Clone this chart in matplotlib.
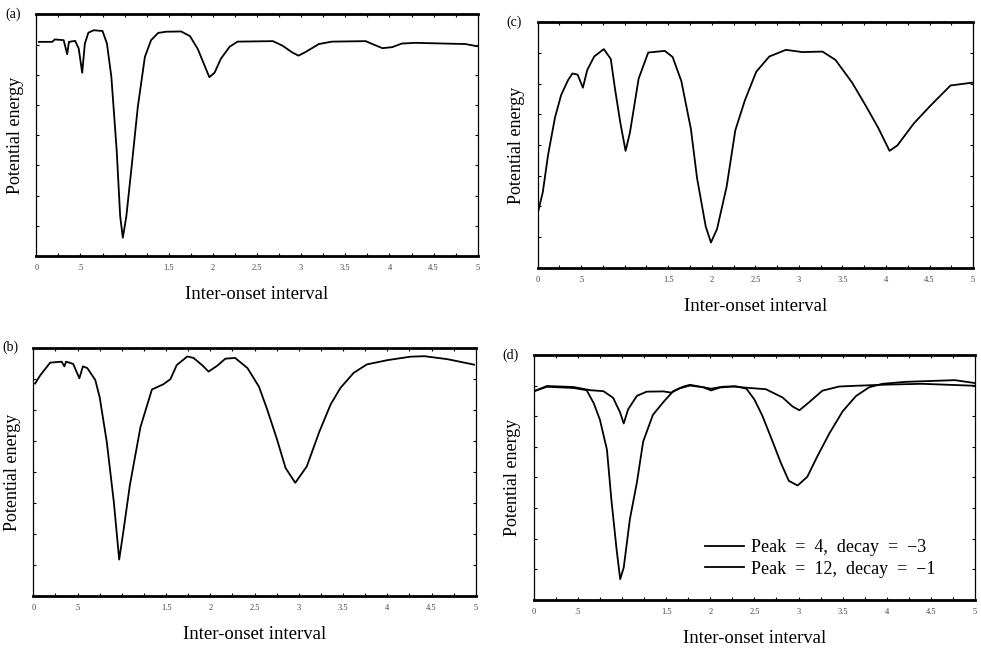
#!/usr/bin/env python3
"""Four-panel potential energy vs inter-onset interval figure (scan recreation)."""

import matplotlib
matplotlib.use("Agg")
import matplotlib.pyplot as plt
from matplotlib.ticker import MultipleLocator

plt.rcParams["font.family"] = ["Liberation Serif", "DejaVu Serif"]

# x tick labels (the "1" label is missing in the original scan)
tick_pos = [0, 0.5, 1, 1.5, 2, 2.5, 3, 3.5, 4, 4.5, 5]
tick_labels = ["0", ".5", "", "1.5", "2", "2.5", "3", "3.5", "4", "4.5", "5"]

# panel (a)
a_x = [0.03, 0.18, 0.21, 0.31, 0.35, 0.37, 0.44, 0.48, 0.52, 0.55, 0.59, 0.65,
       0.75, 0.80, 0.85, 0.91, 0.95, 0.98, 1.02, 1.08, 1.15, 1.23, 1.30, 1.38,
       1.47, 1.64, 1.74, 1.83, 1.89, 1.96, 2.02, 2.09, 2.19, 2.28, 2.68, 2.79,
       2.90, 2.97, 3.05, 3.20, 3.35, 3.73, 3.84, 3.92, 4.03, 4.14, 4.29, 4.86, 4.99]
a_y = [88.6, 88.6, 89.6, 89.3, 83.5, 88.6, 89.0, 85.9, 75.8, 87.9, 92.4, 93.4,
       93.1, 87.9, 74.2, 44.0, 16.5, 7.6, 16.5, 37.1, 61.8, 82.4, 89.3, 92.3,
       92.8, 92.9, 91.0, 85.6, 80.2, 74.0, 75.9, 81.6, 86.6, 88.7, 88.9, 87.0,
       84.2, 82.9, 84.4, 87.7, 88.7, 88.9, 87.2, 86.0, 86.4, 87.9, 88.2, 87.7, 86.8]

# panel (b)
b_x = [0.02, 0.08, 0.19, 0.32, 0.35, 0.37, 0.45, 0.52, 0.56, 0.61, 0.70, 0.75,
       0.83, 0.91, 0.97, 1.02, 1.09, 1.21, 1.34, 1.47, 1.55, 1.62, 1.74, 1.81,
       1.91, 1.98, 2.08, 2.17, 2.28, 2.42, 2.55, 2.64, 2.75, 2.85, 2.96, 3.09,
       3.23, 3.36, 3.47, 3.62, 3.77, 4.00, 4.26, 4.42, 4.68, 4.98]
b_y = [85.6, 89.0, 94.0, 94.4, 92.5, 94.4, 93.5, 87.7, 92.5, 91.8, 87.0, 80.0,
       62.0, 37.7, 14.7, 26.7, 44.5, 68.0, 83.2, 85.3, 87.4, 93.0, 96.5, 95.9,
       92.9, 90.4, 92.8, 95.6, 95.9, 91.8, 84.3, 75.4, 63.5, 51.6, 45.6, 52.2,
       66.0, 77.2, 83.8, 89.9, 93.3, 95.0, 96.4, 96.6, 95.4, 93.2]

# panel (c)
c_x = [0.00, 0.06, 0.12, 0.20, 0.27, 0.35, 0.40, 0.46, 0.52, 0.57, 0.65, 0.76,
       0.84, 0.89, 0.95, 1.01, 1.06, 1.16, 1.27, 1.46, 1.55, 1.65, 1.76, 1.83,
       1.93, 1.99, 2.06, 2.17, 2.27, 2.38, 2.51, 2.66, 2.85, 3.04, 3.27, 3.42,
       3.61, 3.76, 3.91, 4.04, 4.13, 4.32, 4.51, 4.74, 5.00]
c_y = [22.0, 30.8, 45.9, 61.2, 70.3, 76.4, 79.1, 78.6, 73.3, 80.5, 86.0, 89.0,
       85.0, 72.5, 59.0, 47.6, 55.0, 77.0, 87.6, 88.3, 85.8, 76.0, 56.5, 36.6,
       16.8, 10.3, 15.8, 33.0, 56.0, 68.2, 79.8, 86.0, 88.7, 87.8, 88.0, 84.6,
       75.4, 66.4, 57.0, 47.6, 49.8, 58.8, 66.0, 74.2, 75.4]

# panel (d), two parameter settings
d4_x = [0.02, 0.15, 0.45, 0.64, 0.79, 0.90, 0.98, 1.02, 1.07, 1.17, 1.28, 1.47,
        1.56, 1.65, 1.77, 1.92, 2.01, 2.11, 2.26, 2.41, 2.63, 2.82, 2.93, 3.01,
        3.12, 3.27, 3.46, 3.65, 4.02, 4.40, 5.00]
d4_y = [85.4, 87.3, 86.9, 85.6, 85.2, 82.5, 76.4, 72.0, 77.8, 83.3, 85.0, 85.1,
        84.6, 86.3, 87.5, 86.8, 85.5, 86.7, 87.1, 86.6, 86.0, 82.6, 79.0, 77.4,
        80.7, 85.4, 87.1, 87.4, 87.9, 88.2, 87.4]
d12_x = [0.02, 0.15, 0.45, 0.60, 0.68, 0.75, 0.83, 0.88, 0.94, 0.98, 1.02, 1.09,
         1.17, 1.24, 1.35, 1.47, 1.58, 1.69, 1.77, 1.92, 2.01, 2.14, 2.29, 2.41,
         2.50, 2.59, 2.71, 2.80, 2.89, 2.99, 3.10, 3.21, 3.35, 3.50, 3.65, 3.80,
         3.95, 4.21, 4.77, 5.00]
d12_y = [85.4, 87.0, 86.5, 85.6, 80.3, 73.6, 61.3, 41.0, 20.4, 8.5, 13.2, 33.0,
         48.1, 64.6, 75.5, 80.8, 85.2, 87.0, 87.8, 86.8, 86.2, 87.0, 87.2, 86.2,
         81.8, 75.2, 64.3, 55.9, 48.6, 46.7, 50.3, 58.4, 68.0, 77.0, 83.2, 86.8,
         88.2, 89.0, 89.7, 88.5]
d_labels = ["Peak  =  4,  decay  =  \u22123", "Peak  =  12,  decay  =  \u22121"]

# axes rectangles in figure fractions
rects = {
    "a": [0.037, 0.606, 0.450, 0.372],
    "c": [0.548, 0.588, 0.444, 0.378],
    "b": [0.034, 0.083, 0.451, 0.382],
    "d": [0.544, 0.077, 0.450, 0.377],
}


def style_panel(ax):
    ax.set_xlim(0, 5)
    ax.set_ylim(0, 100)
    ax.set_xticks(tick_pos)
    ax.set_xticklabels(tick_labels, fontsize=6, color="#444444")
    ax.xaxis.set_minor_locator(MultipleLocator(0.25))
    ax.yaxis.set_major_locator(MultipleLocator(12.5))
    ax.set_yticklabels([])
    ax.tick_params(which="both", direction="in", top=True, right=True,
                   length=2.5, width=0.8, pad=6)
    for side in ("top", "bottom"):
        ax.spines[side].set_linewidth(2.0)
    for side in ("left", "right"):
        ax.spines[side].set_linewidth(0.9)
    ax.set_xlabel("Inter-onset interval", fontsize=13.5, labelpad=10)
    ax.set_ylabel("Potential energy", fontsize=13, labelpad=3)


fig = plt.figure(figsize=(9.81, 6.5), dpi=100)

series = {"a": [(a_x, a_y)], "b": [(b_x, b_y)], "c": [(c_x, c_y)],
          "d": [(d4_x, d4_y), (d12_x, d12_y)]}

for key, rect in rects.items():
    ax = fig.add_axes(rect)
    for i, (xs, ys) in enumerate(series[key]):
        lbl = d_labels[i] if key == "d" else None
        ax.plot(xs, ys, color="black", linewidth=1.3, label=lbl)
    style_panel(ax)
    fig.text(rect[0] - 0.032, rect[1] + rect[3], f"({key})", fontsize=10,
             ha="left", va="center")
    if key == "d":
        ax.legend(loc="lower right", bbox_to_anchor=(0.94, 0.04), frameon=False,
                  fontsize=13, handlelength=2.2, handletextpad=0.4,
                  labelspacing=0.25, borderpad=0.2)

fig.savefig("out.png", dpi=100)
